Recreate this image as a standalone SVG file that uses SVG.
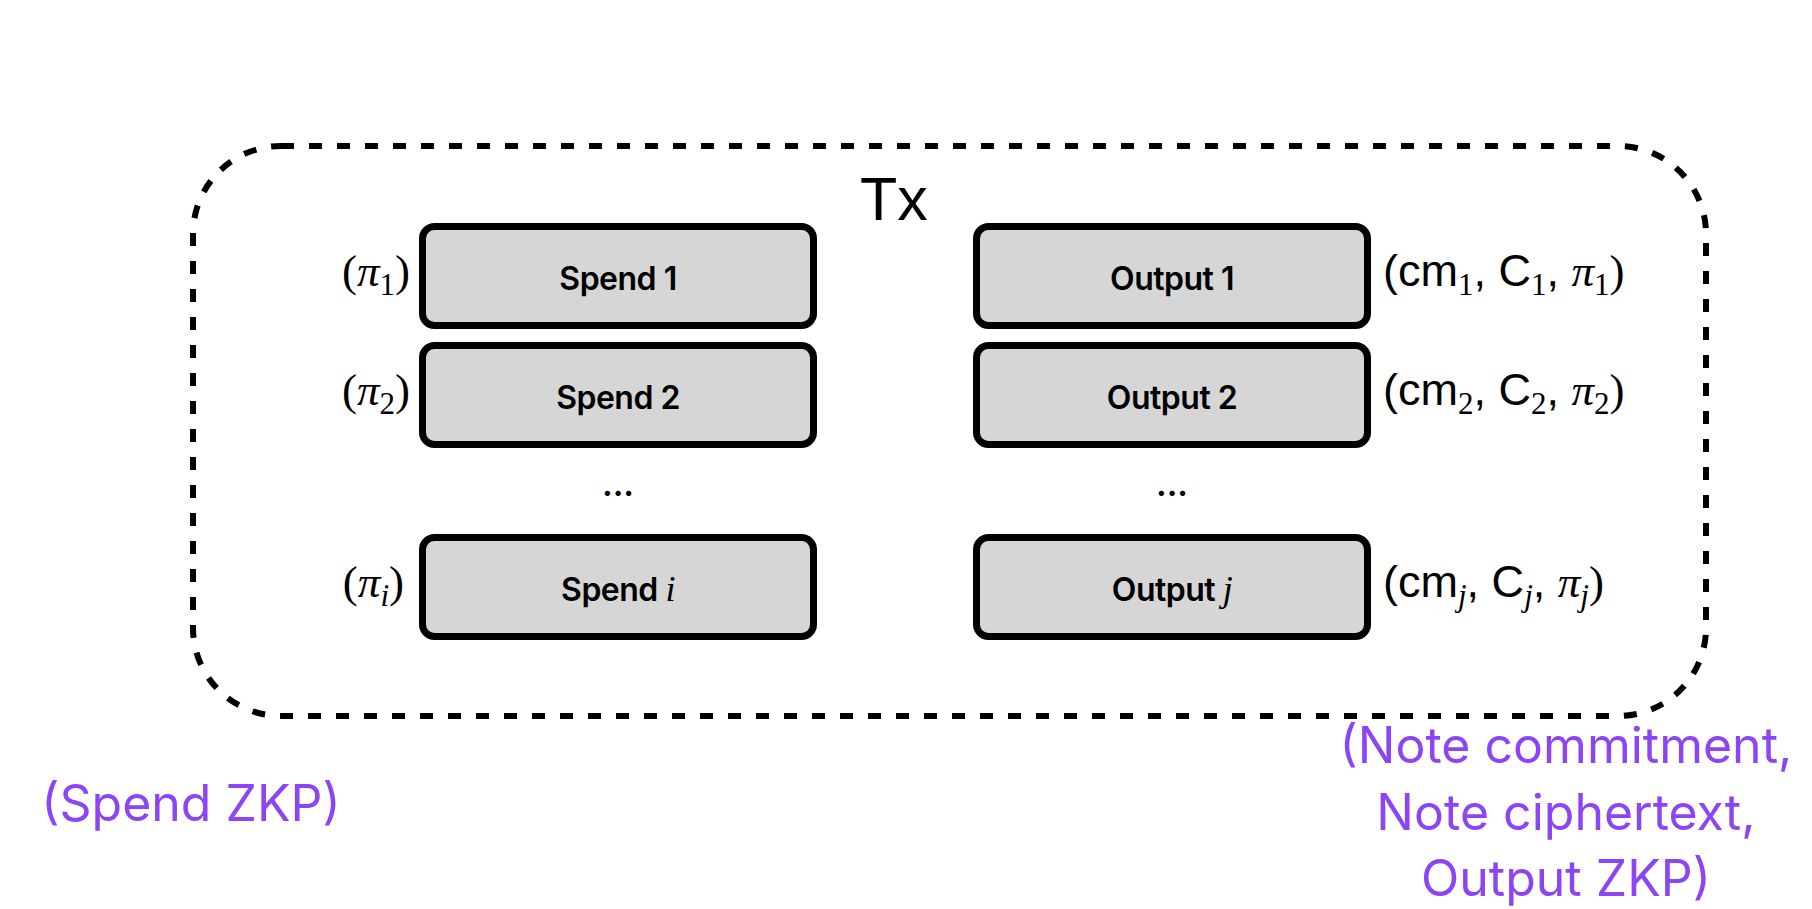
<svg xmlns="http://www.w3.org/2000/svg" width="1812" height="909" viewBox="0 0 1812 909">
<style>
.box{fill:#d6d6d6;stroke:#000;stroke-width:7}
.lbl{font-family:Inter,"Liberation Sans",sans-serif;font-weight:600;font-size:32px;fill:#000;text-anchor:middle;letter-spacing:-0.5px}
.it{font-family:"Liberation Serif",serif;font-style:italic;font-weight:normal}
.ser{font-family:"Liberation Serif",serif;font-size:45px;fill:#000}
.sans{font-family:"Liberation Sans",sans-serif;font-size:45px;fill:#000}
.sub{font-family:"Liberation Serif",serif;font-style:normal;font-size:31px}
.subi{font-family:"Liberation Serif",serif;font-style:italic;font-size:31px}
.pur{font-family:Inter,"Liberation Sans",sans-serif;font-size:50px;fill:#8b45f5;text-anchor:middle}
.dots{font-family:Inter,"Liberation Sans",sans-serif;font-weight:700;font-size:32px;text-anchor:middle}
</style>
<rect width="1812" height="909" fill="#fff"/>
<g id="tx">
<rect x="193" y="146" width="1513" height="570" rx="88" ry="88" fill="none" stroke="#000" stroke-width="6" stroke-dasharray="13 15"/>
<text x="894" y="220" font-family="Liberation Sans, sans-serif" font-size="61" text-anchor="middle">Tx</text>
</g>
<g id="spend1">
<rect class="box" x="422.5" y="226.5" width="391" height="99" rx="12"/>
<text class="lbl" x="618" y="290">Spend 1</text>
<text class="ser" x="410" y="286" text-anchor="end">(<tspan class="it">π</tspan><tspan class="sub" dy="9">1</tspan><tspan dy="-9">)</tspan></text>
</g>
<g id="spend2">
<rect class="box" x="422.5" y="345.5" width="391" height="99" rx="12"/>
<text class="lbl" x="618" y="409">Spend 2</text>
<text class="ser" x="410" y="405" text-anchor="end">(<tspan class="it">π</tspan><tspan class="sub" dy="9">2</tspan><tspan dy="-9">)</tspan></text>
</g>
<g id="spendi">
<rect class="box" x="422.5" y="537.5" width="391" height="99" rx="12"/>
<text class="lbl" x="618" y="601">Spend <tspan class="it" font-size="36">i</tspan></text>
<text class="ser" x="404" y="597" text-anchor="end">(<tspan class="it">π</tspan><tspan class="subi" dy="9">i</tspan><tspan dy="-9">)</tspan></text>
</g>
<g id="output1">
<rect class="box" x="976.5" y="226.5" width="391" height="99" rx="12"/>
<text class="lbl" x="1172" y="290">Output 1</text>
<text class="sans" x="1383" y="286">(cm<tspan class="sub" dy="9">1</tspan><tspan dy="-9">, C</tspan><tspan class="sub" dy="9">1</tspan><tspan dy="-9">, </tspan><tspan class="it ser">π</tspan><tspan class="sub" dy="9">1</tspan><tspan class="ser" dy="-9">)</tspan></text>
</g>
<g id="output2">
<rect class="box" x="976.5" y="345.5" width="391" height="99" rx="12"/>
<text class="lbl" x="1172" y="409">Output 2</text>
<text class="sans" x="1383" y="405">(cm<tspan class="sub" dy="9">2</tspan><tspan dy="-9">, C</tspan><tspan class="sub" dy="9">2</tspan><tspan dy="-9">, </tspan><tspan class="it ser">π</tspan><tspan class="sub" dy="9">2</tspan><tspan class="ser" dy="-9">)</tspan></text>
</g>
<g id="outputj">
<rect class="box" x="976.5" y="537.5" width="391" height="99" rx="12"/>
<text class="lbl" x="1172" y="601">Output <tspan class="it" font-size="36">j</tspan></text>
<text class="sans" x="1383" y="597">(cm<tspan class="subi" dy="9">j</tspan><tspan dy="-9">, C</tspan><tspan class="subi" dy="9">j</tspan><tspan dy="-9">, </tspan><tspan class="it ser">π</tspan><tspan class="subi" dy="9">j</tspan><tspan class="ser" dy="-9">)</tspan></text>
</g>
<g id="ellipses">
<text class="dots" x="618" y="496">...</text>
<text class="dots" x="1172" y="496">...</text>
</g>
<g id="notes">
<text class="pur" x="191" y="821">(Spend ZKP)</text>
<text class="pur" x="1566" y="763">(Note commitment,</text>
<text class="pur" x="1566" y="830">Note ciphertext,</text>
<text class="pur" x="1566" y="896">Output ZKP)</text>
</g>
<g id="connectors"></g>
</svg>
